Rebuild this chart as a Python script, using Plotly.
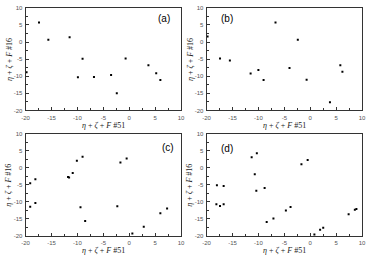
import plotly.graph_objects as go

# Panel (a)
a_x = [-19.8, -17.4, -15.6, -11.5, -9.0, -9.9, -6.8, -3.5, -2.4, -0.7, 3.7, 5.2, 6.0]
a_y = [-8.8, 5.7, 0.7, 1.4, -4.9, -10.3, -10.2, -9.6, -15.0, -4.8, -6.8, -9.1, -11.1]
# Panel (b)
b_x = [-19.8, -17.4, -15.5, -11.5, -10.0, -9.0, -6.7, -4.0, -2.4, -0.7, 3.8, 5.8, 6.2]
b_y = [1.6, -4.8, -5.4, -9.2, -8.2, -11.1, 5.7, -7.6, 0.7, -11.0, -17.6, -6.8, -8.7]
# Panel (c)
c_x = [-19.1, -18.1, -19.1, -18.1, -11.8, -11.6, -10.9, -10.1, -9.0, -9.4, -8.5, -2.3, -1.7, -0.5, 0.6, 2.8, 6.0, 7.3]
c_y = [-4.5, -3.3, -11.4, -10.3, -2.7, -2.8, -1.5, 2.1, 3.3, -11.6, -15.6, -11.3, 1.6, 2.8, -19.3, -17.3, -13.3, -11.9]
# Panel (d)
d_x = [-18.0, -16.7, -18.1, -17.4, -16.7, -11.3, -10.3, -10.7, -10.4, -8.8, -8.4, -7.1, -4.7, -3.8,
       -1.7, -0.5, 0.8, 1.9, 2.5, 7.4, 8.6, 8.9]
d_y = [-5.1, -5.3, -10.7, -11.2, -10.7, 3.1, 4.3, -1.9, -6.7, -5.9, -15.9, -14.9, -12.5, -11.5,
       1.1, 2.3, -19.6, -18.2, -17.6, -13.6, -12.3, -12.1]

panels = [(a_x, a_y, "(a)"), (b_x, b_y, "(b)"), (c_x, c_y, "(c)"), (d_x, d_y, "(d)")]
x_ticks = [-20, -15, -10, -5, 0, 5, 10]
y_ticks = [10, 5, 0, -5, -10, -15, -20]

W, H = 371, 258
xdoms = [(22, 181), (207, 366), (22, 181), (207, 366)]
ydoms = [(5, 110), (5, 110), (134, 238.5), (134, 238.5)]
label_pos = [(164, 16), (228, 16), (168, 148), (228, 149)]

fig = go.Figure()
layout = dict(width=W, height=H, margin=dict(l=0, r=0, t=0, b=0),
              paper_bgcolor="white", plot_bgcolor="white", showlegend=False)
annotations = []
tickfont = dict(family="Liberation Sans", size=6, color="#555555")
titlefont = dict(family="Liberation Serif", size=8, color="#222222")

for i, (xs, ys, lab) in enumerate(panels):
    n = "" if i == 0 else str(i + 1)
    fig.add_trace(go.Scatter(x=xs, y=ys, mode="markers", xaxis="x" + n, yaxis="y" + n,
                             marker=dict(symbol="square", size=2, color="black",
                                         line=dict(width=0))))
    x0, x1 = xdoms[i]
    y0, y1 = ydoms[i]
    layout["xaxis" + n] = dict(
        domain=[x0 / W, x1 / W], range=[-20, 10], anchor="y" + n,
        tickvals=x_ticks, ticktext=[str(v) for v in x_ticks],
        ticks="inside", ticklen=3, tickcolor="#333", tickwidth=1,
        minor=dict(ticks="inside", ticklen=2, dtick=2.5, tickcolor="#333"),
        showline=True, linecolor="#333", linewidth=1, mirror=True,
        showgrid=False, zeroline=False, tickfont=tickfont, ticklabelstandoff=1)
    layout["yaxis" + n] = dict(
        domain=[1 - y1 / H, 1 - y0 / H], range=[-20, 10], anchor="x" + n,
        tickvals=y_ticks, ticktext=[str(v) for v in y_ticks],
        ticks="inside", ticklen=3, tickcolor="#333", tickwidth=1,
        minor=dict(ticks="inside", ticklen=2, dtick=2.5, tickcolor="#333"),
        showline=True, linecolor="#333", linewidth=1, mirror=True,
        showgrid=False, zeroline=False, tickfont=tickfont, ticklabelstandoff=1)
    annotations.append(dict(text="<i>η</i> + <i>ζ</i> + <i>F</i> #51", xref="paper", yref="paper",
                            x=(x0 + x1) / 2 / W, y=1 - (y1 + 15) / H, showarrow=False,
                            font=titlefont, xanchor="center", yanchor="middle"))
    annotations.append(dict(text="<i>η</i> + <i>ζ</i> + <i>F</i> #16", xref="paper", yref="paper",
                            x=(x0 - 17) / W, y=1 - (y0 + y1) / 2 / H, showarrow=False,
                            font=titlefont, textangle=-90, xanchor="center", yanchor="middle"))
    lx, ly = label_pos[i]
    annotations.append(dict(text=lab, xref="paper", yref="paper", x=lx / W, y=1 - ly / H,
                            showarrow=False, xanchor="center", yanchor="middle",
                            font=dict(family="Liberation Sans", size=10, color="black")))

layout["annotations"] = annotations
fig.update_layout(**layout)
fig.write_html("out.html")
